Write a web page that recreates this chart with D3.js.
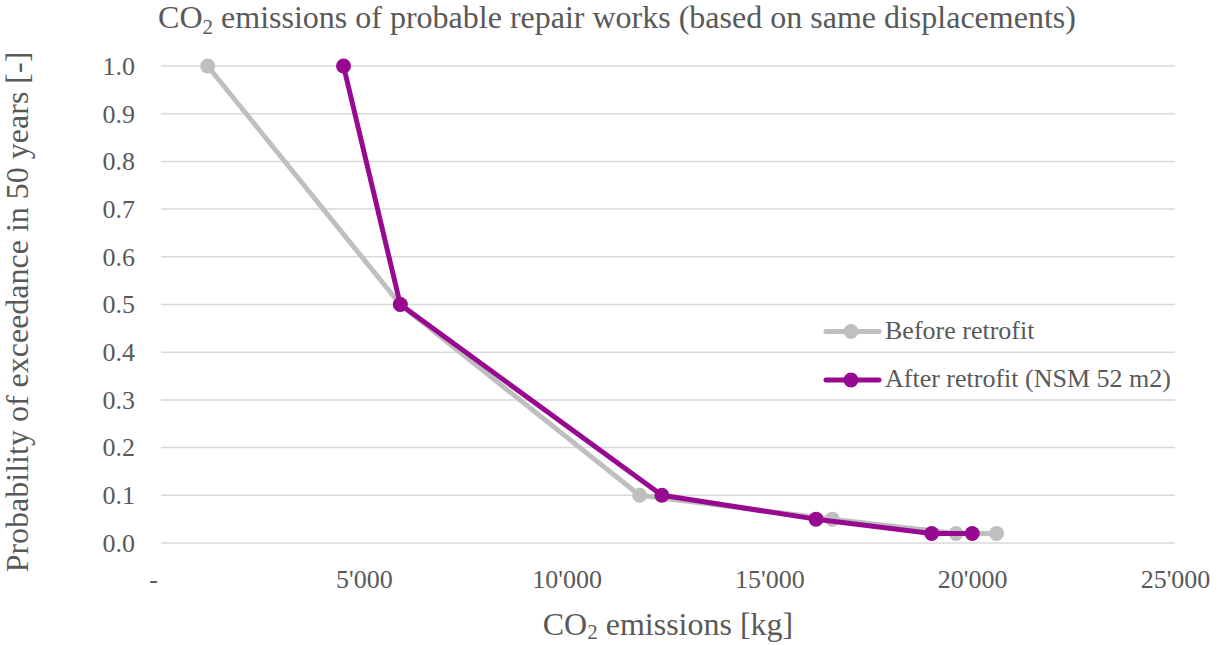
<!DOCTYPE html>
<html>
<head>
<meta charset="utf-8">
<script src="https://cdn.jsdelivr.net/npm/d3@7"></script>
<style>
  html, body { margin: 0; padding: 0; background: #fff; }
</style>
</head>
<body>
<svg id="chart" width="1219" height="645"></svg>
<script>
// Probability of exceedance levels (shared by both series)
const probabilities = [1.0, 0.5, 0.1, 0.05, 0.02, 0.02];
// CO2 emissions [kg] per level
const beforeEmissions = [1150, 5900, 11800, 16550, 19600, 20600];
const afterEmissions  = [4500, 5900, 12350, 16150, 19000, 20000];
const seriesNames = ["Before retrofit", "After retrofit (NSM 52 m2)"];
const seriesColors = ["#bfbfbf", "#970a8f"];
const xTicks = [0, 5000, 10000, 15000, 20000, 25000];
const yTicks = [0, 0.1, 0.2, 0.3, 0.4, 0.5, 0.6, 0.7, 0.8, 0.9, 1.0];

const FONT = "'Liberation Serif', 'Times New Roman', serif";
const TEXT_COLOR = "#595959";

const svg = d3.select("#chart");
const margin = { left: 161, right: 44, top: 66, bottom: 102 };
const W = 1219, H = 645;

const x = d3.scaleLinear().domain([0, 25000]).range([margin.left, W - margin.right]);
const y = d3.scaleLinear().domain([0, 1]).range([H - margin.bottom, margin.top]);

function styleText(sel, size) {
  return sel.style("font-family", FONT).attr("font-size", size).attr("fill", TEXT_COLOR);
}

// Horizontal gridlines
svg.append("g")
  .selectAll("line")
  .data(yTicks)
  .join("line")
  .attr("x1", x(0)).attr("x2", x(25000))
  .attr("y1", d => y(d)).attr("y2", d => y(d))
  .attr("stroke", "#d9d9d9").attr("stroke-width", 1.5);

// Y tick labels
const yAxis = d3.axisLeft(y).tickValues(yTicks).tickFormat(d3.format(".1f")).tickSize(0).tickPadding(26);
const gy = svg.append("g").attr("transform", `translate(${margin.left},0)`).call(yAxis);
gy.select(".domain").remove();
styleText(gy.selectAll("text"), 26);

// X tick labels (thousands separated with an apostrophe, zero as a dash)
const fmtX = d => d === 0 ? "-" : d3.format(",")(d).replace(/,/g, "'");
const xAxis = d3.axisBottom(x).tickValues(xTicks).tickFormat(fmtX).tickSize(0).tickPadding(27);
const gx = svg.append("g").attr("transform", `translate(0,${H - margin.bottom})`).call(xAxis);
gx.select(".domain").remove();
styleText(gx.selectAll("text"), 26).attr("dx", d => d === 0 ? -8 : 0);

// Series
const series = [
  { name: seriesNames[0], color: seriesColors[0], xs: beforeEmissions },
  { name: seriesNames[1], color: seriesColors[1], xs: afterEmissions }
];
const line = d3.line().x(d => x(d[0])).y(d => y(d[1]));

series.forEach(s => {
  const pts = s.xs.map((v, i) => [v, probabilities[i]]);
  const g = svg.append("g");
  g.append("path").datum(pts)
    .attr("d", line).attr("fill", "none")
    .attr("stroke", s.color).attr("stroke-width", 5)
    .attr("stroke-linejoin", "round").attr("stroke-linecap", "round");
  g.selectAll("circle").data(pts).join("circle")
    .attr("cx", d => x(d[0])).attr("cy", d => y(d[1]))
    .attr("r", 7.5).attr("fill", s.color);
});

// Legend
const legend = svg.append("g");
series.forEach((s, i) => {
  const ly = 331.5 + i * 48.5;
  legend.append("line").attr("x1", 826).attr("x2", 879).attr("y1", ly).attr("y2", ly)
    .attr("stroke", s.color).attr("stroke-width", 5).attr("stroke-linecap", "round");
  legend.append("circle").attr("cx", 851).attr("cy", ly).attr("r", 7.5).attr("fill", s.color);
  styleText(legend.append("text").attr("x", 885).attr("y", ly + 7), 26).text(s.name);
});

// Title
const title = styleText(svg.append("text").attr("x", 617).attr("y", 28).attr("text-anchor", "middle"), 32);
title.append("tspan").text("CO");
title.append("tspan").attr("font-size", 21).attr("dy", 6).text("2");
title.append("tspan").attr("dy", -6).text(" emissions of probable repair works (based on same displacements)");

// X axis title
const xt = styleText(svg.append("text").attr("x", 668).attr("y", 635).attr("text-anchor", "middle"), 32);
xt.append("tspan").text("CO");
xt.append("tspan").attr("font-size", 21).attr("dy", 4).text("2");
xt.append("tspan").attr("dy", -4).text(" emissions [kg]");

// Y axis title
styleText(svg.append("text")
  .attr("transform", `translate(28,312) rotate(-90)`)
  .attr("text-anchor", "middle"), 32)
  .text("Probability of exceedance in 50 years [-]");
</script>
</body>
</html>
